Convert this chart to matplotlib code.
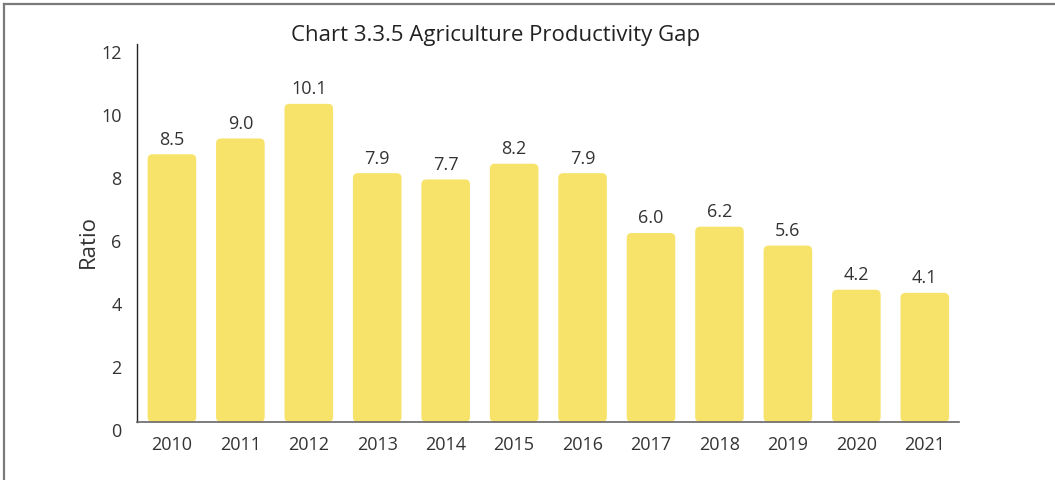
import matplotlib
matplotlib.use("Agg")
import matplotlib.pyplot as plt
from matplotlib.patches import FancyBboxPatch
from matplotlib.lines import Line2D
from matplotlib.transforms import ScaledTranslation

years = ["2010", "2011", "2012", "2013", "2014", "2015",
         "2016", "2017", "2018", "2019", "2020", "2021"]
ratio = [8.5, 9.0, 10.1, 7.9, 7.7, 8.2, 7.9, 6.0, 6.2, 5.6, 4.2, 4.1]
yticks = [0, 2, 4, 6, 8, 10, 12]

BAR_COLOR = "#F8E36A"
TEXT_COLOR = "#333333"
FONT = ["Open Sans", "DejaVu Sans"]

plt.rcParams["font.family"] = FONT

W, H, DPI = 1055, 480, 100
fig = plt.figure(figsize=(W / DPI, H / DPI), dpi=DPI)
ax = fig.add_axes([137 / W, 1 - 422 / H, (959 - 137) / W, (422 - 44) / H])

x = list(range(len(years)))
bars = ax.bar(x, ratio, width=0.71, color=BAR_COLOR)
ax.set_xlim(-0.51, 11.5)
ax.set_ylim(0, 12)

# replace the square bars with rounded ones of the same extent
fig.canvas.draw()
px_x = ax.transData.transform((1, 0))[0] - ax.transData.transform((0, 0))[0]
px_y = ax.transData.transform((0, 1))[1] - ax.transData.transform((0, 0))[1]
aspect = px_x / px_y
radius_px = 5
for b in bars:
    b.set_visible(False)
    rounded = FancyBboxPatch(
        (b.get_x(), b.get_y()), b.get_width(), b.get_height(),
        boxstyle=f"round,pad=0,rounding_size={radius_px / px_x}",
        mutation_aspect=aspect,
        facecolor=BAR_COLOR, edgecolor="none", zorder=2,
    )
    ax.add_patch(rounded)

for xi, v in zip(x, ratio):
    ax.annotate(f"{v:.1f}", (xi, v), xytext=(0, 4), textcoords="offset points",
                ha="center", va="bottom", fontsize=13, color=TEXT_COLOR)

ax.set_xticks(x)
ax.set_xticklabels(years)
ax.set_yticks(yticks)
ax.set_yticklabels([str(t) for t in yticks])
ax.tick_params(axis="both", length=0, labelsize=13, labelcolor=TEXT_COLOR)
ax.tick_params(axis="x", pad=10)
ax.tick_params(axis="y", pad=11)
shift = ScaledTranslation(0, -8 / DPI, fig.dpi_scale_trans)
for lbl in ax.get_yticklabels():
    lbl.set_transform(lbl.get_transform() + shift)

for side in ("top", "right"):
    ax.spines[side].set_visible(False)
ax.spines["left"].set_color("#222222")
ax.spines["left"].set_linewidth(1.0)
ax.spines["bottom"].set_color("#666666")
ax.spines["bottom"].set_linewidth(1.2)

fig.text(88 / W, 1 - 242 / H, "Ratio", rotation=90, ha="center", va="center",
         fontsize=16, color=TEXT_COLOR)
fig.text(496 / W, 1 - 35 / H, "Chart 3.3.5 Agriculture Productivity Gap",
         ha="center", va="center", fontsize=16, color="#222222")

# frame lines along the top and left edges
fig.add_artist(Line2D([4 / W, 1], [1 - 4 / H, 1 - 4 / H], color="#7a7a7a",
                      linewidth=1.6, transform=fig.transFigure))
fig.add_artist(Line2D([4 / W, 4 / W], [0, 1 - 4 / H], color="#7a7a7a",
                      linewidth=1.6, transform=fig.transFigure))

fig.savefig("out.png", dpi=DPI, facecolor="white")
